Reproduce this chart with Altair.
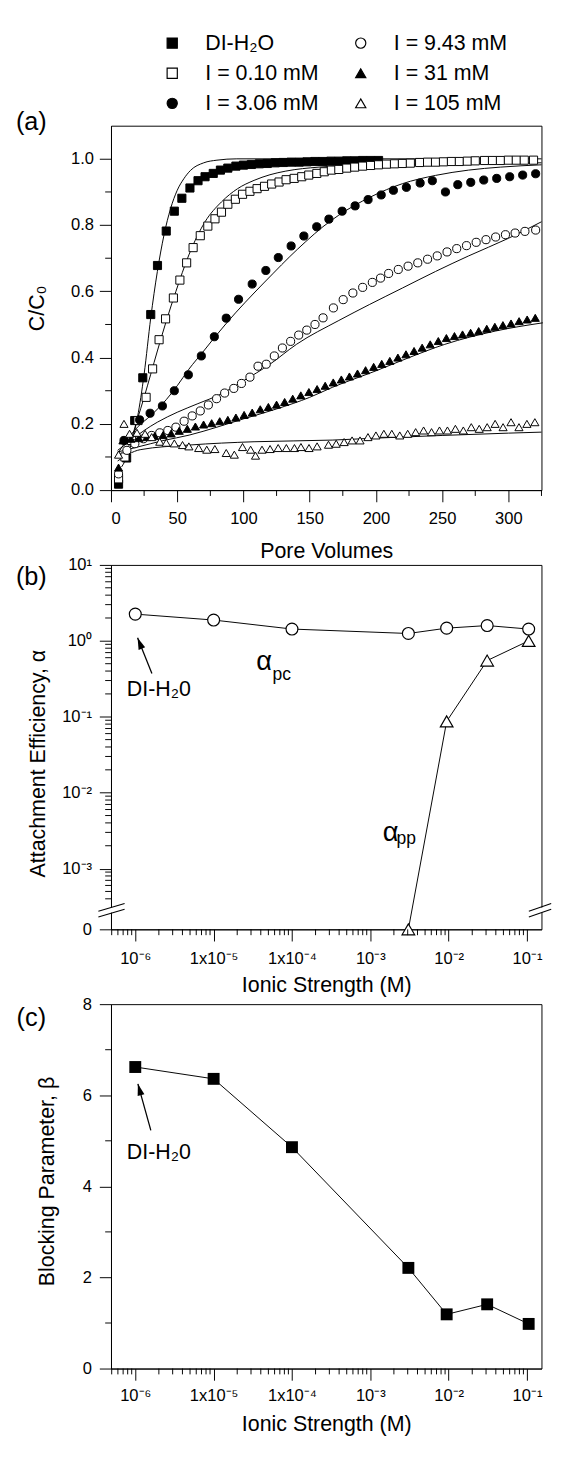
import json
import math
import altair as alt
import pandas as pd

FONT = "Liberation Sans"
W, H = 443, 375

# ---------------- panel (a): breakthrough curves ----------------
series_names = ["DI-H₂O", "I = 0.10 mM", "I = 3.06 mM", "I = 9.43 mM", "I = 31 mM", "I = 105 mM"]
series_shapes = ["square", "square", "circle", "circle", "triangle-up", "triangle-up"]
series_fills = ["black", "white", "black", "white", "black", "white"]

di_pv = [5.7, 11.8, 17.9, 24.0, 30.0, 35.1, 41.7, 47.8, 53.5, 59.6, 65.7, 71.0, 77.2, 82.6, 88.2, 94.3,
         100, 106, 112, 118, 124, 130, 136, 142, 148, 154, 160, 166, 172, 178, 184, 190, 196, 202]
di_c = [0.018, 0.097, 0.21, 0.339, 0.53, 0.678, 0.782, 0.842, 0.881, 0.912, 0.934, 0.946, 0.956, 0.966,
        0.972, 0.978, 0.981, 0.983, 0.985, 0.986, 0.988, 0.989, 0.99, 0.99, 0.991, 0.992, 0.992, 0.993,
        0.993, 0.994, 0.994, 0.995, 0.995, 0.995]

s010_pv = [5.7, 10.5, 15.5, 20.4, 26.5, 31.4, 36.3, 41.2, 47.1, 52.0, 57.1, 62.0, 67.4, 73.1, 78.5, 83.4,
           88.2, 93.9, 99.3, 104.9, 110.3, 115.9, 121.3, 126.9, 132.2, 138.3, 144.0, 149.3, 155.4, 161.0,
           166.4, 172, 178, 184, 190, 196, 202, 208, 214, 220, 226, 233, 239, 245, 251, 257, 263, 269,
           275, 282, 288, 294, 300, 306, 312, 319]
s010_c = [0.034, 0.10, 0.15, 0.21, 0.28, 0.366, 0.454, 0.517, 0.58, 0.634, 0.686, 0.732, 0.768, 0.797,
          0.819, 0.839, 0.863, 0.878, 0.893, 0.902, 0.91, 0.917, 0.924, 0.93, 0.937, 0.941, 0.946, 0.951,
          0.956, 0.961, 0.966, 0.968, 0.972, 0.975, 0.978, 0.98, 0.982, 0.984, 0.985, 0.986, 0.987, 0.989,
          0.99, 0.99, 0.991, 0.992, 0.992, 0.993, 0.994, 0.995, 0.995, 0.995, 0.996, 0.996, 0.996, 0.996]

s306_pv = [9.8, 21.6, 29.5, 38.8, 47.8, 58.4, 68.2, 78.0, 87.0, 96.3, 106.6, 116.9, 126.3, 136.0, 145.6,
           155.3, 164.5, 174.5, 184.3, 194.1, 204.0, 213.2, 223.0, 233.4, 242.6, 252.5, 261.8, 271.6,
           281.4, 291.2, 301.0, 310.8, 320.6]
s306_c = [0.15, 0.212, 0.232, 0.254, 0.30, 0.348, 0.405, 0.463, 0.519, 0.576, 0.622, 0.663, 0.702, 0.737,
          0.767, 0.795, 0.818, 0.842, 0.858, 0.877, 0.891, 0.905, 0.914, 0.927, 0.934, 0.90, 0.922, 0.929,
          0.936, 0.941, 0.946, 0.951, 0.955]

s943_pv = [5.7, 12, 18, 24.5, 30.7, 36.8, 42.9, 49.0, 55.2, 61.3, 67.4, 73.5, 79.7, 85.8, 92.7, 98.5,
           104.9, 111.0, 117.2, 123.3, 129.4, 135.6, 141.7, 147.8, 154.0, 160.1, 167.9, 175.3, 182.6,
           190.0, 197.3, 203.5, 209.6, 216.9, 224.3, 231.6, 239.0, 246.3, 253.7, 261.0, 268.4, 275.7,
           283.1, 290.4, 297.8, 305.1, 312.5, 320.6]
s943_c = [0.049, 0.12, 0.14, 0.155, 0.165, 0.173, 0.18, 0.19, 0.208, 0.224, 0.239, 0.257, 0.276, 0.293,
          0.307, 0.322, 0.341, 0.374, 0.38, 0.405, 0.429, 0.449, 0.468, 0.483, 0.50, 0.52, 0.55, 0.575,
          0.595, 0.612, 0.627, 0.64, 0.654, 0.666, 0.676, 0.686, 0.697, 0.707, 0.719, 0.729, 0.738, 0.748,
          0.756, 0.764, 0.771, 0.776, 0.781, 0.785]

s31_pv = [5.7, 9, 15, 21, 27, 33, 39.3, 45.4, 51.5, 57.6, 63.7, 69.9, 76.0, 82.1, 88.2, 94.3, 100.5,
          106.6, 112.7, 118.8, 125.0, 131.1, 137.2, 143.3, 149.4, 155.6, 161.7, 167.8, 173.9, 180.0,
          186.1, 192.2, 198.3, 204.4, 210.5, 216.6, 222.7, 228.8, 234.9, 241.0, 247.1, 253.2, 259.3,
          265.4, 271.5, 277.6, 283.7, 289.8, 295.9, 302.0, 308.1, 314.2, 320.3]
s31_c = [0.068, 0.15, 0.155, 0.157, 0.16, 0.163, 0.166, 0.171, 0.179, 0.185, 0.192, 0.198, 0.202, 0.208,
         0.212, 0.219, 0.227, 0.234, 0.244, 0.251, 0.258, 0.266, 0.276, 0.286, 0.296, 0.305, 0.315, 0.325,
         0.334, 0.343, 0.352, 0.362, 0.372, 0.381, 0.39, 0.40, 0.41, 0.42, 0.43, 0.44, 0.45, 0.459, 0.465,
         0.47, 0.475, 0.48, 0.487, 0.493, 0.498, 0.503, 0.51, 0.515, 0.52]

s105_pv = [5.7, 9.8, 14, 19.6, 25.7, 30.7, 36.8, 41.7, 47.8, 54.0, 58.8, 66.2, 72.3, 78.4, 87.0, 93.1,
           99.3, 105.4, 109.1, 114.0, 120.1, 126.2, 132.4, 138.5, 143.4, 149.5, 155.6, 164.2, 170, 176,
           182, 188, 194, 200, 206, 212, 218, 224, 230, 236, 242, 248, 254, 260, 266, 272, 278, 284, 290,
           296, 302, 308, 314, 320]
s105_c = [0.107, 0.2, 0.17, 0.173, 0.17, 0.16, 0.146, 0.143, 0.141, 0.136, 0.132, 0.127, 0.122, 0.124,
          0.112, 0.107, 0.13, 0.122, 0.104, 0.122, 0.124, 0.127, 0.127, 0.127, 0.13, 0.127, 0.132, 0.137,
          0.14, 0.145, 0.15, 0.15, 0.16, 0.165, 0.17, 0.17, 0.165, 0.17, 0.175, 0.18, 0.175, 0.18, 0.18,
          0.185, 0.18, 0.19, 0.185, 0.19, 0.2, 0.19, 0.205, 0.19, 0.2, 0.205]

# fitted model curves
fit_di_pv = [8, 12, 16, 20, 25, 30, 35, 40, 45, 50, 55, 60, 70, 80, 95, 150, 250, 325]
fit_di_c = [0.07, 0.10, 0.15, 0.22, 0.35, 0.52, 0.66, 0.77, 0.85, 0.905, 0.94, 0.965, 0.988, 0.996, 1.0, 1.0, 1.0, 1.0]
fit_010_pv = [10, 15, 20, 25, 30, 35, 41.7, 49, 58.8, 71, 83.4, 95.6, 108, 120, 132, 157, 200, 250, 325]
fit_010_c = [0.10, 0.15, 0.215, 0.28, 0.35, 0.42, 0.51, 0.60, 0.71, 0.81, 0.87, 0.91, 0.935, 0.952, 0.963, 0.975, 0.982, 0.985, 0.988]
fit_306_pv = [5, 10, 20, 30, 41.7, 50, 58.8, 70, 78, 94, 108, 122.6, 135, 147, 160, 172, 196, 220, 245, 270, 294, 325]
fit_306_c = [0.11, 0.14, 0.19, 0.225, 0.273, 0.315, 0.365, 0.42, 0.46, 0.535, 0.595, 0.655, 0.705, 0.75, 0.795, 0.83, 0.885, 0.925, 0.95, 0.966, 0.975, 0.982]
fit_943_pv = [5, 15, 25, 35, 50, 65, 83, 100, 120, 140, 172, 195, 220, 245, 270, 300, 325]
fit_943_c = [0.12, 0.15, 0.18, 0.205, 0.235, 0.26, 0.29, 0.33, 0.38, 0.44, 0.512, 0.56, 0.61, 0.66, 0.707, 0.76, 0.81]
fit_31_pv = [5, 20, 40, 59, 80, 100, 125, 150, 167, 200, 225, 252, 290, 326]
fit_31_c = [0.115, 0.13, 0.15, 0.166, 0.19, 0.215, 0.245, 0.28, 0.31, 0.36, 0.40, 0.44, 0.48, 0.505]
fit_105_pv = [5, 22, 59, 108, 167, 200, 250, 300, 325]
fit_105_c = [0.088, 0.122, 0.136, 0.146, 0.151, 0.157, 0.165, 0.172, 0.175]

a_xticks = [0, 50, 100, 150, 200, 250, 300]
a_xminor = [25, 75, 125, 175, 225, 275, 325]
a_yticks = [0.0, 0.2, 0.4, 0.6, 0.8, 1.0]
a_yminor = [0.1, 0.3, 0.5, 0.7, 0.9]

# ---------------- panel (b): attachment efficiency ----------------
b_I = [1e-6, 1e-5, 1e-4, 3.06e-3, 9.43e-3, 3.1e-2, 1.05e-1]
b_alpha_pc = [2.25, 1.88, 1.43, 1.25, 1.47, 1.59, 1.43]
b_I_pp = [3.06e-3, 9.43e-3, 3.1e-2, 1.05e-1]
b_alpha_pp = [0.0, 0.087, 0.55, 1.0]
ZERO_LEVEL = -3.8  # position of the "0" below the axis break (in decades)
b_ytick_vals = [1, 0, -1, -2, -3, ZERO_LEVEL]
b_ytick_labels = ["10¹", "10⁰", "10⁻¹", "10⁻²", "10⁻³", "0"]

# ---------------- panel (c): blocking parameter ----------------
c_I = [1e-6, 1e-5, 1e-4, 3.06e-3, 9.43e-3, 3.1e-2, 1.05e-1]
c_beta = [6.62, 6.36, 4.86, 2.21, 1.19, 1.41, 0.98]
c_yticks = [0, 2, 4, 6, 8]
c_yminor = [1, 3, 5, 7]

log_decades = [1e-6, 1e-5, 1e-4, 1e-3, 1e-2, 1e-1]
log_labels = ["10⁻⁶", "1x10⁻⁵", "1x10⁻⁴", "10⁻³", "10⁻²", "10⁻¹"]
LOG_DOMAIN = [4.9e-7, 0.153]

# annotations
b_text = ["DI-H₂0", "α", "pc", "α", "pp"]
b_text_I = [2.0e-6, 4.4e-5, 7.4e-5, 1.81e-3, 2.88e-3]
b_text_ly = [-0.643, -0.28, -0.451, -2.529, -2.606]
b_text_fs = [22, 28, 18, 28, 18]
b_arrow = {"I0": [1.63e-6], "ly0": [-0.429], "I1": [1.07e-6], "ly1": [0.04]}
c_text = ["DI-H₂0"]
c_text_I = [2.0e-6]
c_text_b = [4.76]
c_arrow = {"I0": [1.58e-6], "b0": [5.23], "I1": [1.08e-6], "b1": [6.25]}
panel_labels = ["(a)", "(b)", "(c)"]

ARROW = "M0,0L0.6,2L-0.6,2Z"

# ---------------- build tables ----------------
pts_lists = [(di_pv, di_c), (s010_pv, s010_c), (s306_pv, s306_c), (s943_pv, s943_c), (s31_pv, s31_c), (s105_pv, s105_c)]
fit_lists = [(fit_di_pv, fit_di_c), (fit_010_pv, fit_010_c), (fit_306_pv, fit_306_c), (fit_943_pv, fit_943_c),
             (fit_31_pv, fit_31_c), (fit_105_pv, fit_105_c)]
pts_df = pd.concat([pd.DataFrame({"series": n, "pv": p[0], "c": p[1]}) for n, p in zip(series_names, pts_lists)])
fit_df = pd.concat([pd.DataFrame({"series": n, "pv": p[0], "c": p[1]}) for n, p in zip(series_names, fit_lists)])


def to_ly(a):
    return math.log10(a) if a > 0 else ZERO_LEVEL


pc_df = pd.DataFrame({"I": b_I, "ly": [to_ly(a) for a in b_alpha_pc]})
pp_df = pd.DataFrame({"I": b_I_pp, "ly": [to_ly(a) for a in b_alpha_pp]})
c_df = pd.DataFrame({"I": c_I, "beta": c_beta})

log_minor = [m * 10.0 ** d for d in range(-7, -1) for m in range(2, 10)]
log_minor = [v for v in log_minor if LOG_DOMAIN[0] <= v <= LOG_DOMAIN[1]]
b_yminor = [d + math.log10(m) for d in range(-4, 1) for m in range(2, 10)]
b_yminor = [v for v in b_yminor if -3.45 <= v <= 1]

log_label_expr = json.dumps(log_labels, ensure_ascii=False) + "[round(log(datum.value)/LN10)+6]"
b_label_expr = (json.dumps(b_ytick_labels, ensure_ascii=False) + "[indexof(" +
                json.dumps(b_ytick_vals) + ", datum.value)]")

TICK_MAJOR, TICK_MINOR = 12, 6


def qx(field, scale):
    return alt.X(f"{field}:Q", scale=scale)


def qy(field, scale):
    return alt.Y(f"{field}:Q", scale=scale)


def xminor_layer(df, field, scale):
    return alt.Chart(df).mark_rule(color="black", strokeWidth=1).encode(
        x=qx(field, scale), y=alt.value(H), y2=alt.value(H + TICK_MINOR))


def yminor_layer(df, field, scale):
    return alt.Chart(df).mark_rule(color="black", strokeWidth=1).encode(
        y=qy(field, scale), x=alt.value(-TICK_MINOR), x2=alt.value(0))


def panel_label(text, ypix):
    return alt.Chart(pd.DataFrame({"t": [text]})).mark_text(
        font=FONT, fontSize=26, align="center", baseline="middle", color="black").encode(
        text="t:N", x=alt.value(-82), y=alt.value(ypix))


# ---------------- panel (a) ----------------
xa_scale = alt.Scale(domain=[0, 325], nice=False, zero=False)
ya_scale = alt.Scale(domain=[0, 1.1], nice=False, zero=False)
xa = alt.X("pv:Q", scale=xa_scale, axis=alt.Axis(values=a_xticks, format="d", title="Pore Volumes",
                                                labelPadding=9, titleX=W / 2, titleY=62, titleBaseline="middle"))
ya = alt.Y("c:Q", scale=ya_scale, axis=alt.Axis(values=a_yticks, format=".1f", title="C/C₀", labelPadding=6,
                                               titleX=-76, titleY=H / 2, titleBaseline="middle"))

legend = alt.Legend(orient="none", legendX=52, legendY=-96, columns=2, columnPadding=32, rowPadding=9,
                    labelFont=FONT, labelFontSize=22, labelOffset=23, labelLimit=400, symbolSize=110,
                    symbolStrokeWidth=1.2, symbolStrokeColor="black", title=None, padding=0)

fits = alt.Chart(fit_df).mark_line(color="black", strokeWidth=1, interpolate="monotone").encode(
    x=xa, y=ya, detail="series:N")
points = alt.Chart(pts_df).mark_point(filled=False, strokeWidth=1, size=70, opacity=1).encode(
    x=qx("pv", xa_scale),
    y=qy("c", ya_scale),
    shape=alt.Shape("series:N", scale=alt.Scale(domain=series_names, range=series_shapes), legend=legend),
    fill=alt.Fill("series:N", scale=alt.Scale(domain=series_names, range=series_fills), legend=legend),
    stroke=alt.Stroke("series:N", scale=alt.Scale(domain=series_names, range=["black"] * len(series_names)),
                      legend=legend),
)
panel_a = alt.layer(
    fits, points,
    xminor_layer(pd.DataFrame({"pv": a_xminor}), "pv", xa_scale),
    yminor_layer(pd.DataFrame({"c": a_yminor}), "c", ya_scale),
    panel_label(panel_labels[0], -4),
).properties(width=W, height=H)

# ---------------- panel (b) ----------------
xlog_scale = alt.Scale(type="log", domain=LOG_DOMAIN, nice=False)
yb_scale = alt.Scale(domain=[ZERO_LEVEL, 1], nice=False, zero=False)
xb = alt.X("I:Q", scale=xlog_scale, axis=alt.Axis(values=log_decades, labelExpr=log_label_expr,
                                                  title="Ionic Strength (M)", labelPadding=10,
                                                  titleX=W / 2, titleY=57, titleBaseline="middle"))
yb = alt.Y("ly:Q", scale=yb_scale, axis=alt.Axis(values=b_ytick_vals, labelExpr=b_label_expr,
                                                 title="Attachment Efficiency, α", labelPadding=8,
                                                 titleX=-75, titleY=204, titleBaseline="middle"))
xb_n = qx("I", xlog_scale)
yb_n = qy("ly", yb_scale)

pc_line = alt.Chart(pc_df).mark_line(color="black", strokeWidth=1).encode(x=xb, y=yb)
pp_line = alt.Chart(pp_df).mark_line(color="black", strokeWidth=1).encode(x=xb_n, y=yb_n)
pc_pts = alt.Chart(pc_df).mark_point(shape="circle", filled=True, fill="white", stroke="black",
                                     strokeWidth=1.2, size=150, opacity=1).encode(x=xb_n, y=yb_n)
pp_pts = alt.Chart(pp_df).mark_point(shape="triangle-up", filled=True, fill="white", stroke="black",
                                     strokeWidth=1.2, size=170, opacity=1).encode(x=xb_n, y=yb_n)

b_ann = pd.DataFrame({"t": b_text, "I": b_text_I, "ly": b_text_ly, "fs": b_text_fs})
b_texts = alt.Chart(b_ann).mark_text(font=FONT, align="center", baseline="middle", color="black").encode(
    x=xb_n, y=yb_n, text="t:N", size=alt.Size("fs:Q", scale=None, legend=None))
b_arr_df = pd.DataFrame(b_arrow)
b_arr_line = alt.Chart(b_arr_df).mark_rule(color="black", strokeWidth=1.3).encode(
    x=qx("I0", xlog_scale), x2="I1:Q", y=qy("ly0", yb_scale), y2="ly1:Q")
b_arr_head = alt.Chart(b_arr_df).mark_point(shape=ARROW, filled=True, color="black", size=144, angle=338.4,
                                            opacity=1).encode(x=qx("I1", xlog_scale), y=qy("ly1", yb_scale))

# axis-break marks (two slanted strokes with a gap) on left and right frame
brk = pd.DataFrame({"y1": [-3.562, -3.638], "y2": [-3.46, -3.536]})
brk_gap = pd.DataFrame({"y1": [-3.568], "y2": [-3.53]})


def break_layers(x0, x1, g0, g1):
    gap = alt.Chart(brk_gap).mark_rule(color="white", strokeWidth=5).encode(
        x=alt.value(g0), x2=alt.value(g1), y=qy("y1", yb_scale), y2="y2:Q")
    lines = alt.Chart(brk).mark_rule(color="black", strokeWidth=1.1).encode(
        x=alt.value(x0), x2=alt.value(x1), y=qy("y1", yb_scale), y2="y2:Q")
    return [gap, lines]


panel_b = alt.layer(
    pc_line, pp_line, pc_pts, pp_pts, b_texts, b_arr_line, b_arr_head,
    *break_layers(-13, 14, -5, 5), *break_layers(W - 13, W + 10, W - 5, W + 5),
    xminor_layer(pd.DataFrame({"I": log_minor}), "I", xlog_scale),
    yminor_layer(pd.DataFrame({"ly": b_yminor}), "ly", yb_scale),
    panel_label(panel_labels[1], 13),
).properties(width=W, height=H)

# ---------------- panel (c) ----------------
yc_scale = alt.Scale(domain=[0, 8], nice=False, zero=False)
xc = alt.X("I:Q", scale=xlog_scale, axis=alt.Axis(values=log_decades, labelExpr=log_label_expr,
                                                  title="Ionic Strength (M)", labelPadding=8,
                                                  titleX=W / 2, titleY=57, titleBaseline="middle"))
yc = alt.Y("beta:Q", scale=yc_scale, axis=alt.Axis(values=c_yticks, format="d", title="Blocking Parameter, β",
                                                   labelPadding=8, titleX=-66, titleY=182,
                                                   titleBaseline="middle"))
xc_n = qx("I", xlog_scale)
yc_n = qy("beta", yc_scale)

c_line = alt.Chart(c_df).mark_line(color="black", strokeWidth=1).encode(x=xc, y=yc)
c_pts = alt.Chart(c_df).mark_point(shape="square", filled=True, color="black", size=150, opacity=1).encode(
    x=xc_n, y=yc_n)
c_ann = pd.DataFrame({"t": c_text, "I": c_text_I, "beta": c_text_b})
c_texts = alt.Chart(c_ann).mark_text(font=FONT, fontSize=22, align="center", baseline="middle",
                                     color="black").encode(x=xc_n, y=yc_n, text="t:N")
c_arr_df = pd.DataFrame(c_arrow)
c_arr_line = alt.Chart(c_arr_df).mark_rule(color="black", strokeWidth=1.3).encode(
    x=qx("I0", xlog_scale), x2="I1:Q", y=qy("b0", yc_scale), y2="b1:Q")
c_arr_head = alt.Chart(c_arr_df).mark_point(shape=ARROW, filled=True, color="black", size=144, angle=344.4,
                                            opacity=1).encode(x=qx("I1", xlog_scale), y=qy("b1", yc_scale))

panel_c = alt.layer(
    c_line, c_pts, c_texts, c_arr_line, c_arr_head,
    xminor_layer(pd.DataFrame({"I": log_minor}), "I", xlog_scale),
    yminor_layer(pd.DataFrame({"beta": c_yminor}), "beta", yc_scale),
    panel_label(panel_labels[2], 14),
).properties(width=W, height=H)

chart = alt.vconcat(panel_a, panel_b, panel_c, spacing=77, bounds="flush").properties(
    padding={"left": 7, "top": 4, "right": 5, "bottom": 5}
).configure(font=FONT).configure_view(stroke="black", strokeWidth=1).configure_axis(
    labelFont=FONT, titleFont=FONT, labelFontSize=17, titleFontSize=22, titleFontWeight="normal",
    labelColor="black", titleColor="black", domainColor="black", tickColor="black", domainWidth=1,
    tickWidth=1, tickSize=TICK_MAJOR, grid=False, zindex=0
)

chart.save("out.html", embed_options={"renderer": "svg", "actions": False})
